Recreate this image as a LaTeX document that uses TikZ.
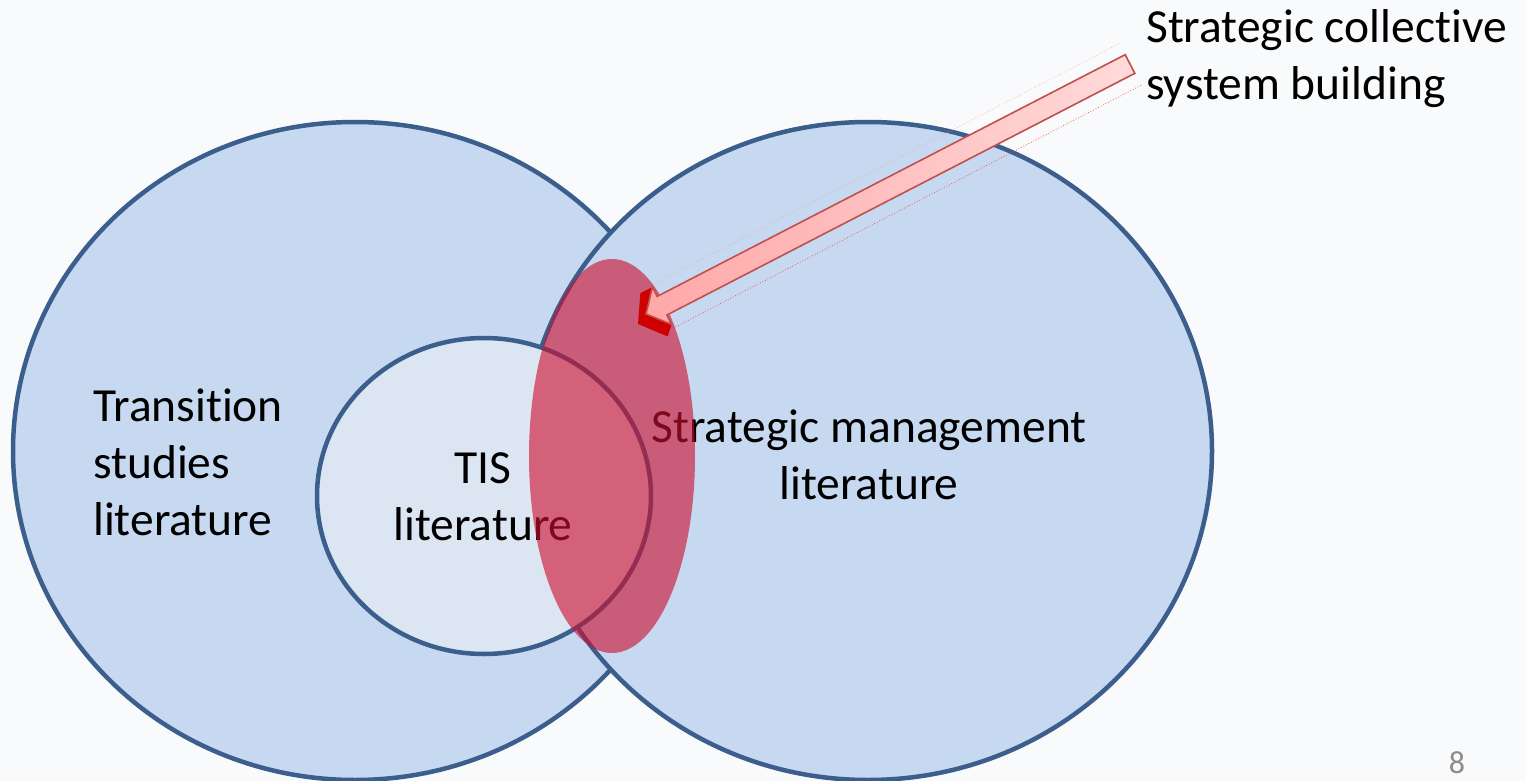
\documentclass[tikz,border=0pt]{standalone}
\usepackage{fontspec}
\setmainfont{Carlito}[Ligatures=NoCommon]
\usetikzlibrary{calc,shapes.geometric}
\definecolor{bg}{HTML}{F9FAFC}
\definecolor{circfill}{HTML}{C6D9F0}
\definecolor{tisfill}{HTML}{DCE6F2}
\definecolor{circline}{HTML}{3B5E8C}
\definecolor{spot}{HTML}{CC1030}
\definecolor{arrline}{HTML}{C0504D}
\definecolor{arrdark}{HTML}{D00000}
\definecolor{arrlight}{HTML}{FFDADA}
\definecolor{arrmid}{HTML}{FFA8A8}
\definecolor{pagegray}{HTML}{8C8C8C}
\begin{document}
\begin{tikzpicture}[x=1pt,y=-1pt,
  circ/.style={ellipse, draw=circline, line width=4.5pt, fill=circfill, inner sep=0pt},
  lbl/.style={inner sep=0pt, font=\fontsize{47.5}{57}\selectfont, text=black},
]
\fill[bg] (0,0) rectangle (1526,781);
\useasboundingbox (0,0) rectangle (1526,781);
\begin{scope}
\clip (0,0) rectangle (1526,781);
\node[circ, minimum width=684pt, minimum height=658pt] (trans) at (355,451) {};
\node[circ, minimum width=688pt, minimum height=658pt] (strat) at (868,451) {};
\node[circ, fill=tisfill, minimum width=334pt, minimum height=316pt] (tis) at (484,496) {};
\end{scope}
% labels (base anchor = baseline of the last line)
\node[lbl, anchor=base west, align=left] (translbl) at (93,535) {Transition\\studies\\literature};
\node[lbl, anchor=base, align=center] (tislbl) at (483,540) {TIS\\literature};
\node[lbl, anchor=base, align=center] (stratlbl) at (869,499) {Strategic management\\literature};
% red overlap
\node[ellipse, fill=spot, fill opacity=0.62, inner sep=0pt, minimum width=166pt, minimum height=394pt] (sweet) at (612,456) {};
% arrow
\coordinate (tail) at (1130,64);
\coordinate (tip) at (646,314);
\coordinate (hb) at ($(tip)!18pt!(tail)$);
\coordinate (tailL) at ($(tail)!10.5pt!90:(tip)$);
\coordinate (tailU) at ($(tail)!10.5pt!-90:(tip)$);
\coordinate (baseL) at ($(hb)!10.5pt!90:(tip)$);
\coordinate (baseU) at ($(hb)!10.5pt!-90:(tip)$);
\coordinate (barbL) at ($(hb)!21pt!90:(tip)$);
\coordinate (barbU) at ($(hb)!21pt!-90:(tip)$);
\draw[red!80, line width=0.8pt, dotted, opacity=0.8] ($(tail)!24pt!90:(tip)$) -- ($(hb)!25pt!90:(tip)$);
\draw[red!40, line width=0.8pt, dotted, opacity=0.7] ($(tail)!23pt!-90:(tip)$) -- ($(hb)!23pt!-90:(tip)$);
\fill[arrdark] ($(barbU)+(-12,6)$) -- ($(tip)+(-8,10)$) -- ($(barbL)+(-4,12)$) -- (barbL) -- (tip) -- (barbU) -- cycle;
\draw[arrline, line width=1.6pt, line join=miter, left color=arrmid, right color=arrlight]
  (tailU) -- (baseU) -- (barbU) -- (tip) -- (barbL) -- (baseL) -- (tailL) -- cycle;
\node[lbl, anchor=base west, align=left] (sclbl) at (1146,100) {Strategic collective\\system building};
\node[inner sep=0pt, text=pagegray, font=\fontsize{32}{38}\selectfont] (pg) at (1457,763) {8};
\end{tikzpicture}
\end{document}
